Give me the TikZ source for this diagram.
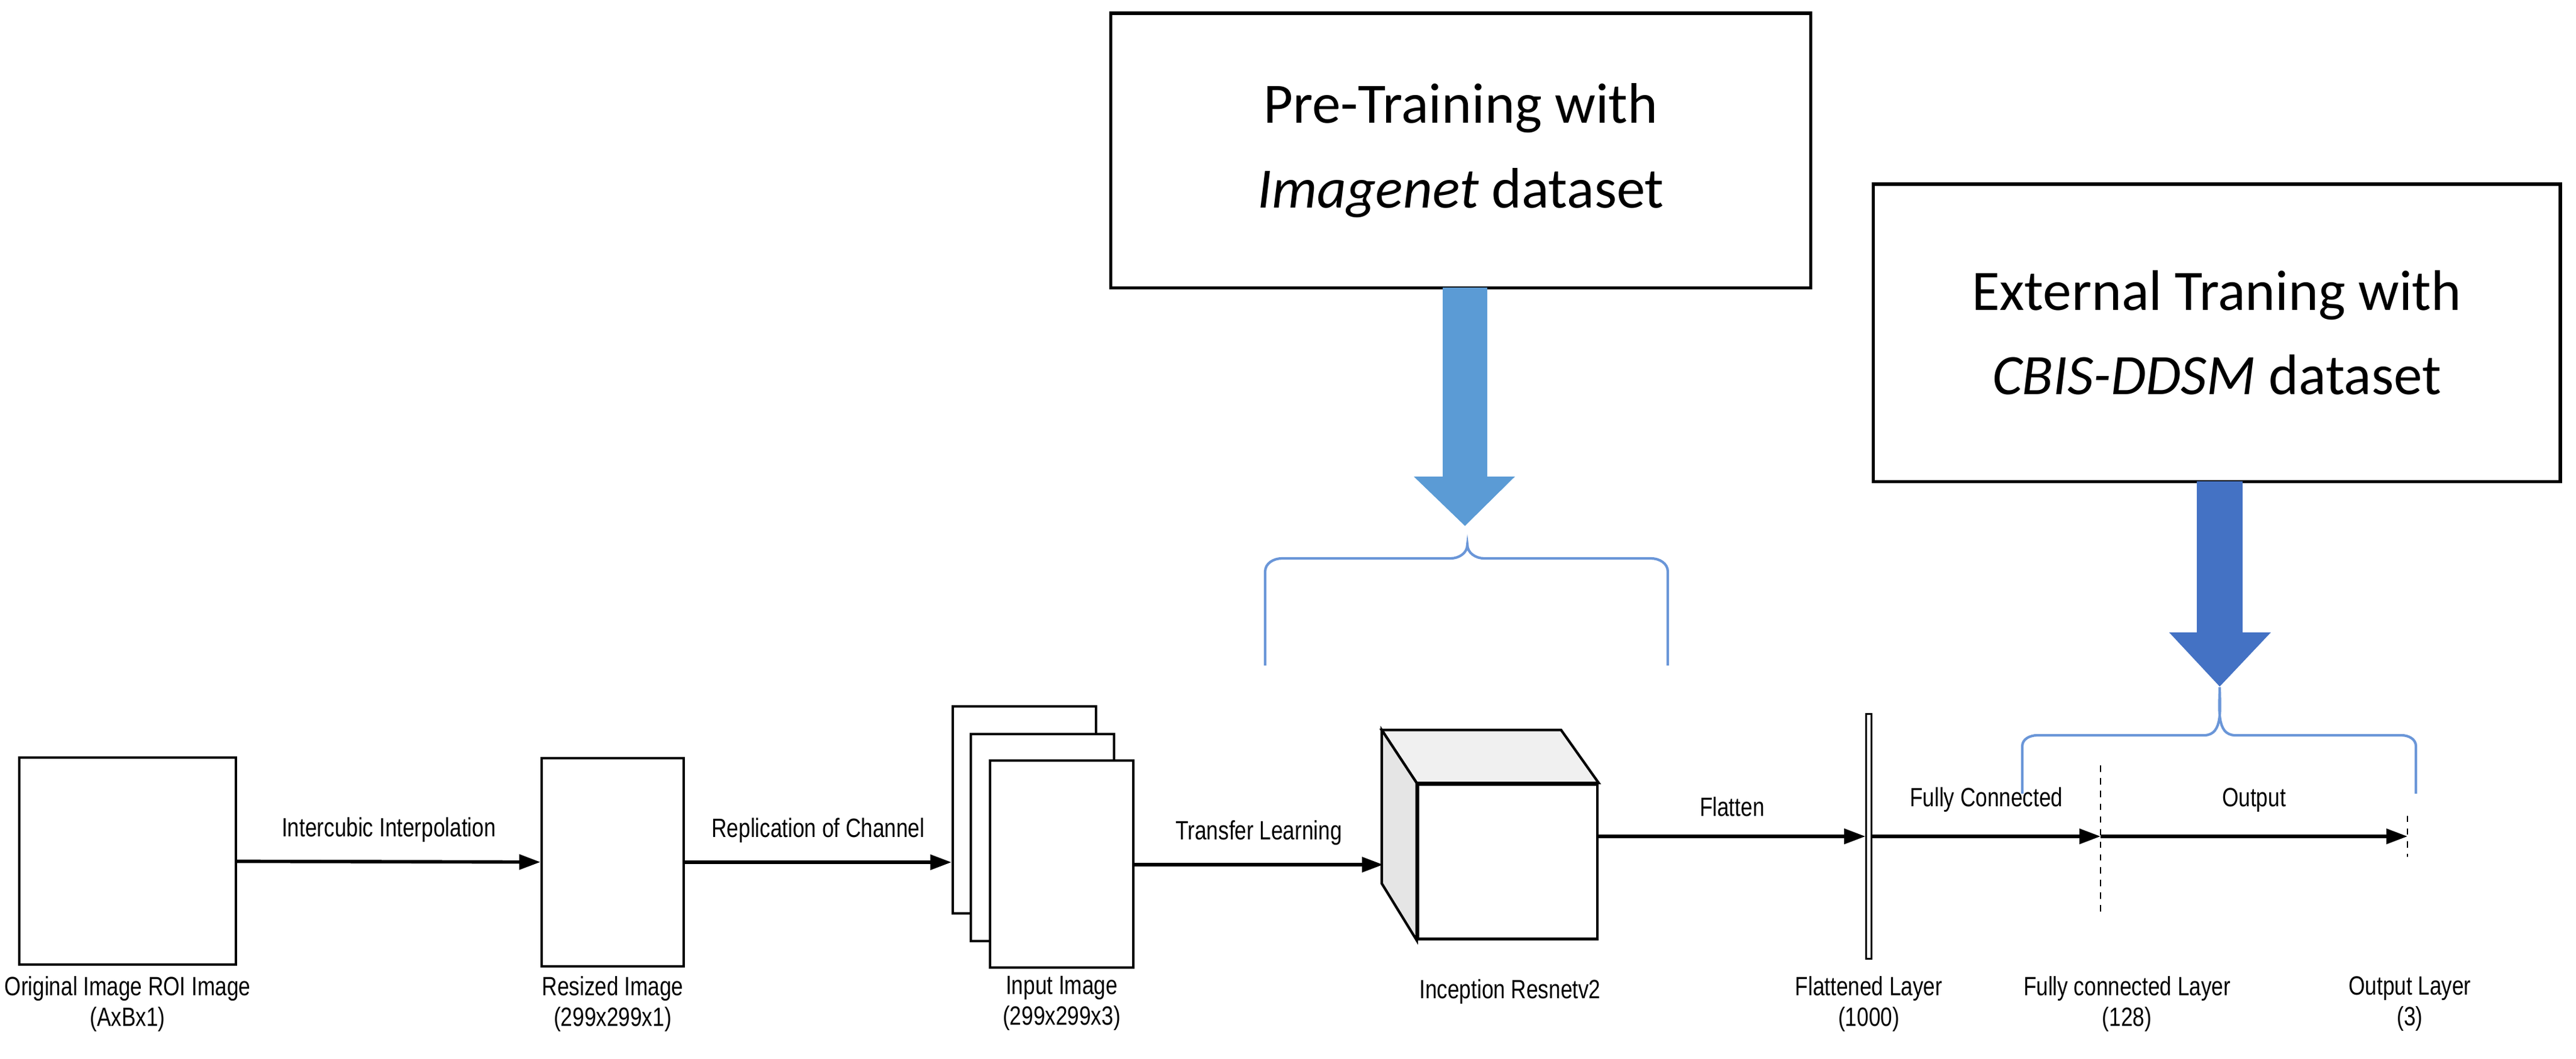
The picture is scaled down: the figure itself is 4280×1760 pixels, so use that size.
\documentclass[tikz,border=0pt]{standalone}
\usepackage{fontspec}
\setmainfont{Liberation Sans}
\newfontfamily\calib{Carlito}
\usetikzlibrary{arrows.meta}
\definecolor{lightblue}{HTML}{5B9BD5}
\definecolor{darkblue}{HTML}{4472C4}
\definecolor{bracecol}{HTML}{6A96D8}

\begin{document}
\begin{tikzpicture}[x=0.01cm, y=-0.01cm,
    img/.style={draw, fill=white, line width=1.2pt, inner sep=0},
    lbl/.style={font=\fontsize{12.5}{14.5}\selectfont, xscale=0.8, transform shape, align=center, inner sep=0},
    flow/.style={-{Triangle[length=10pt, width=7pt]}, line width=1.6pt},
    big/.style={draw, line width=1.5pt, font=\calib\fontsize{27}{40}\selectfont, align=center, inner sep=0},
    brc/.style={draw=bracecol, line width=1.2pt}]
    \useasboundingbox (0,0) rectangle (4280,1760);

    % Images
    \node[img, minimum width=3.6cm, minimum height=3.44cm] (orig) at (212,1431) {};
    \node[img, minimum width=2.36cm, minimum height=3.46cm] (resz) at (1018,1433) {};
    \node[img, minimum width=2.38cm, minimum height=3.44cm] (in3) at (1702,1346) {};
    \node[img, minimum width=2.38cm, minimum height=3.44cm] (in2) at (1732,1392) {};
    \node[img, minimum width=2.38cm, minimum height=3.44cm] (in1) at (1764,1436) {};

    % Inception cube
    \node[img, minimum width=2.98cm, minimum height=2.57cm] (incp) at (2505,1432) {};
    \draw[img, fill=gray!12] (incp.north west) -- ++(-58,-88) -- ++(298,0) -- (incp.north east) -- cycle;
    \draw[img, fill=gray!20] (incp.north west) -- ++(-58,-88) -- ++(0,255) -- (incp.south west) -- cycle;
    \coordinate (incpin) at (2298,1437);

    % Layers
    \node[draw, line width=0.7pt, minimum width=2.5pt, minimum height=4.07cm, inner sep=0] (flat) at (3105,1390) {};
    \node[minimum width=0, minimum height=2.48cm, inner sep=0] (fc) at (3490,1397) {};
    \node[minimum width=0, minimum height=0.67cm, inner sep=0] (out) at (4000,1390) {};
    \draw[dashed, line width=0.8pt] (fc.north) -- (fc.south);
    \draw[dashed, line width=0.8pt] (out.north) -- (out.south);
    \coordinate (fcin) at (fc.center |- flat.east);

    % Connectors
    \draw[flow] (orig) -- (resz) node[lbl, midway, above=0.3cm] {Intercubic Interpolation};
    \draw[flow] (resz.east) -- (in3.west |- resz.east) node[lbl, midway, above=0.3cm] {Replication of Channel};
    \draw[flow] (in1.east |- incpin) -- (incpin) node[lbl, midway, above=0.3cm] {Transfer Learning};
    \draw[flow] (incp.east |- flat) -- (flat.west) node[lbl, midway, above=0.3cm] {Flatten};
    \draw[flow] (flat.east) -- (fcin) node[lbl, midway, above=0.38cm] {Fully Connected};
    \draw[flow] (fcin) -- (out.center) node[lbl, midway, above=0.38cm] {Output};

    % Bottom labels
    \node[lbl, anchor=north] at (212,1622) {Original Image ROI Image\\(AxBx1)};
    \node[lbl, anchor=north] at (1018,1622) {Resized Image\\(299x299x1)};
    \node[lbl, anchor=north] at (1764,1622) {Input Image\\(299x299x3)};
    \node[lbl, anchor=north] at (2509,1627) {Inception Resnetv2};
    \node[lbl, anchor=north] at (3105,1622) {Flattened Layer\\(1000)};
    \node[lbl, anchor=north] at (3534,1622) {Fully connected Layer\\(128)};
    \node[lbl, anchor=north] at (4004,1622) {Output Layer\\(3)};

    % Training boxes
    \node[big, minimum width=11.62cm, minimum height=4.56cm] (pre) at (2427,250) {Pre-Training with\\\textit{Imagenet} dataset};
    \node[big, minimum width=11.41cm, minimum height=4.94cm] (ext) at (3683,553) {External Traning with\\\textit{CBIS-DDSM} dataset};
    \fill[lightblue] (2397,478) -- (2471,478) -- (2471,792) -- (2517,792) -- (2434,874) -- (2349,792) -- (2397,792) -- cycle;
    \fill[darkblue] (3650,800) -- (3726,800) -- (3726,1051) -- (3773,1051) -- (3688,1141) -- (3604,1051) -- (3650,1051) -- cycle;

    % Braces
    \draw[brc] (2102,1106) -- (2102,950) to[out=90,in=180] (2130,928) -- (2410,928) to[out=0,in=-90] (2438,905)
        to[out=-90,in=180] (2466,928) -- (2743,928) to[out=0,in=90] (2771,950) -- (2771,1106);
    \draw[brc] (3360,1319) -- (3360,1240) to[out=90,in=180] (3385,1222) -- (3662,1222) to[out=0,in=-90] (3688,1142)
        to[out=-90,in=180] (3714,1222) -- (3990,1222) to[out=0,in=90] (4014,1240) -- (4014,1319);
\end{tikzpicture}
\end{document}
